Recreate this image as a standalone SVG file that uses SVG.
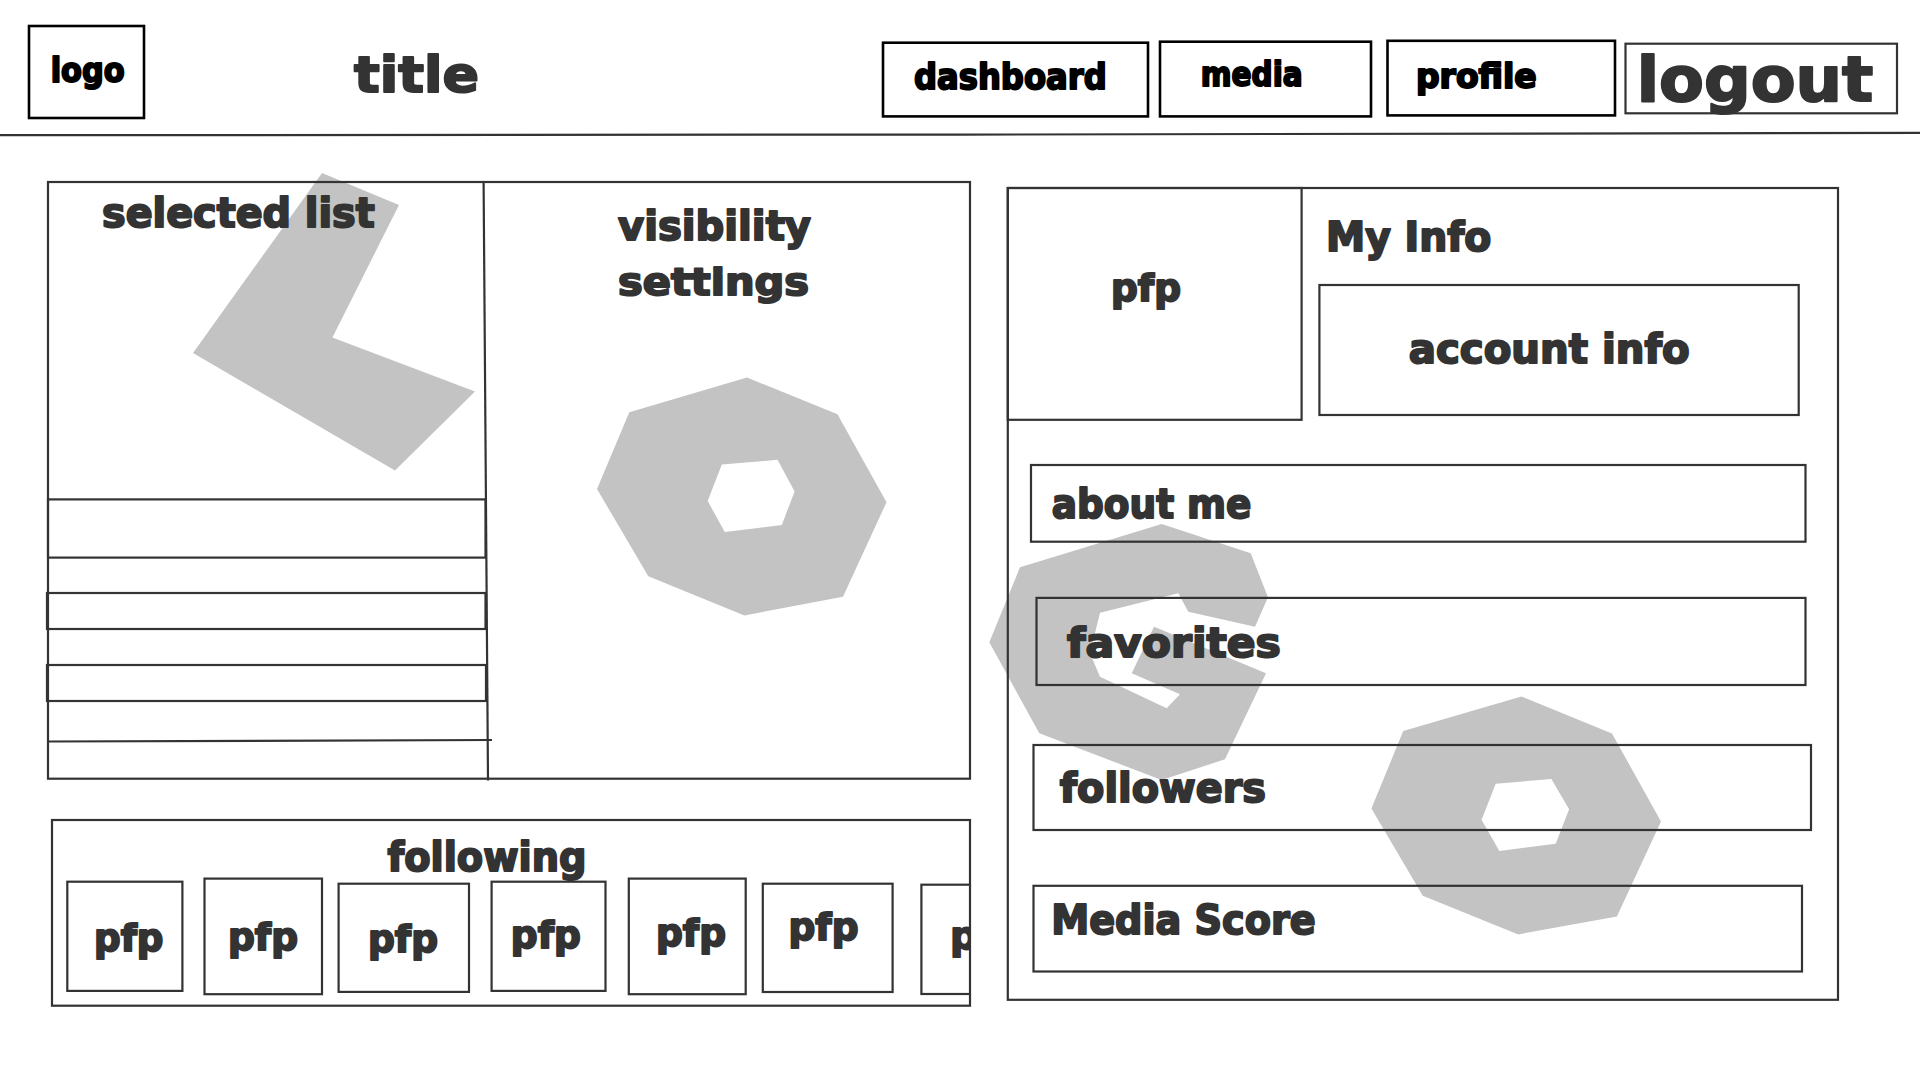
<svg xmlns="http://www.w3.org/2000/svg" width="1920" height="1080" viewBox="0 0 1920 1080">
<style>
rect.b{fill:none;stroke:#333;stroke-width:2.2}
rect.k{fill:none;stroke:#000;stroke-width:2.6}
.l{fill:none;stroke:#333;stroke-width:2.2}
.g{fill:#c3c3c3;fill-rule:evenodd}
text{font-family:"DejaVu Sans","Liberation Sans",sans-serif;font-weight:700;fill:#333;stroke:#333;stroke-width:2;stroke-linejoin:round}
text.kt{fill:#000;stroke:#000}
</style>
<defs><clipPath id="clip7"><rect x="900" y="870" width="70" height="130"/></clipPath></defs>
<rect width="1920" height="1080" fill="#fff"/>
<g id="shapes">
<polygon class="g" points="322,173 399,205 332.4,337.5 475,391.6 395,470.5 193,353"/>
<path class="g" d="M747,377.5 837.5,414.3 886.5,502.2 843,596.8 744.4,615.4 648.3,576.2 597,489 629.3,412.3ZM777.5,459.8 794.6,491.5 781.8,524.9 724.8,532.1 707.7,501.1 721.8,464.6Z"/>
<polygon class="g" points="1161.7,524 1250.7,553.3 1268,597.3 1255,626.7 1188.3,611.7 1178.3,593.3 1100,612.7 1090,653.3 1100,676.7 1166.7,708.3 1180,694.3 1131.7,673.3 1154,626.7 1266,673.3 1225,759.3 1161.7,780 1039.3,733.3 989.3,642.3 1020,567.3"/>
<path class="g" d="M1521.4,696.4 1612,733.6 1661,821.4 1616.9,916.4 1518.3,934.4 1422.8,895.8 1371.4,808.6 1403.2,731.1ZM1551.4,779 1569.1,809.3 1555.7,843.8 1499.3,851 1481.6,819.7 1495.7,783.8Z"/>
</g>
<g id="connectors">
<path class="l" d="M0,135.2 L960,134.6 L1920,132.8"/>
<path class="l" d="M483.6,182 L488,780.5"/>
<path class="l" d="M48,741.5 L492,740"/>
</g>
<g id="logo"><rect class="k" x="29" y="26" width="115" height="92"/><text class="kt" x="50.7" y="81.7" font-size="33" textLength="74" lengthAdjust="spacingAndGlyphs">logo</text></g>
<g id="title"><text x="354" y="92" font-size="50" textLength="125" lengthAdjust="spacingAndGlyphs">title</text></g>
<g id="nav-dashboard"><rect class="k" x="883" y="42.7" width="265" height="73.7"/><text class="kt" x="914" y="89.3" font-size="35" textLength="192.7" lengthAdjust="spacingAndGlyphs">dashboard</text></g>
<g id="nav-media"><rect class="k" x="1160" y="41.7" width="211" height="74.7"/><text class="kt" x="1200.7" y="86" font-size="33" textLength="102" lengthAdjust="spacingAndGlyphs">media</text></g>
<g id="nav-profile"><rect class="k" x="1387.5" y="40.8" width="227.5" height="74.6"/><text class="kt" x="1416" y="88" font-size="33" textLength="120.7" lengthAdjust="spacingAndGlyphs">profile</text></g>
<g id="nav-logout"><rect class="b" x="1625.5" y="43.7" width="271.5" height="69.6"/><text x="1636.7" y="101" font-size="62" textLength="236.6" lengthAdjust="spacingAndGlyphs">logout</text></g>
<g id="list-panel">
<rect class="b" x="48" y="182" width="922" height="596.7"/>
<rect class="b" x="48" y="499.4" width="437.5" height="58.2"/>
<rect class="b" x="47" y="593" width="438.5" height="36"/>
<rect class="b" x="47" y="665" width="439" height="36"/>
<text x="102" y="226.6" font-size="40" textLength="272.7" lengthAdjust="spacingAndGlyphs">selected list</text>
</g>
<g id="visibility-settings">
<text x="618" y="240" font-size="40" textLength="193" lengthAdjust="spacingAndGlyphs">visibility</text>
<text x="618" y="295" font-size="38" textLength="191" lengthAdjust="spacingAndGlyphs">settings</text>
</g>
<g id="following">
<rect class="b" x="52" y="820" width="918" height="185.7"/>
<text x="387.5" y="870.6" font-size="40" textLength="199" lengthAdjust="spacingAndGlyphs">following</text>
</g>
<g id="pfp-1"><rect class="b" x="67.3" y="881.7" width="115.1" height="109.2"/><text x="94" y="951" font-size="38" textLength="69.5" lengthAdjust="spacingAndGlyphs">pfp</text></g>
<g id="pfp-2"><rect class="b" x="204.5" y="878.6" width="117.5" height="115.6"/><text x="228" y="949.5" font-size="38" textLength="70" lengthAdjust="spacingAndGlyphs">pfp</text></g>
<g id="pfp-3"><rect class="b" x="338.6" y="883.7" width="130.4" height="108.2"/><text x="368" y="952" font-size="38" textLength="70" lengthAdjust="spacingAndGlyphs">pfp</text></g>
<g id="pfp-4"><rect class="b" x="491.6" y="881.7" width="113.9" height="109.2"/><text x="510.8" y="947.5" font-size="38" textLength="70" lengthAdjust="spacingAndGlyphs">pfp</text></g>
<g id="pfp-5"><rect class="b" x="628.8" y="878.6" width="116.9" height="115.6"/><text x="656" y="945.5" font-size="38" textLength="70" lengthAdjust="spacingAndGlyphs">pfp</text></g>
<g id="pfp-6"><rect class="b" x="762.8" y="883.7" width="129.8" height="108.3"/><text x="788.5" y="939.5" font-size="38" textLength="70" lengthAdjust="spacingAndGlyphs">pfp</text></g>
<g id="pfp-7" clip-path="url(#clip7)"><rect class="b" x="921.4" y="884.7" width="120" height="109.3"/><text x="950.2" y="949" font-size="38" textLength="70" lengthAdjust="spacingAndGlyphs">pfp</text></g>
<g id="info-panel">
<rect class="b" x="1007.8" y="188" width="830.2" height="811.8"/>
<text x="1326" y="250.7" font-size="40" textLength="165.4" lengthAdjust="spacingAndGlyphs">My Info</text>
</g>
<g id="info-pfp"><rect class="b" x="1007.8" y="188" width="293.8" height="231.8"/><text x="1111" y="301" font-size="38" textLength="70" lengthAdjust="spacingAndGlyphs">pfp</text></g>
<g id="account-info"><rect class="b" x="1319.4" y="285" width="479.3" height="130"/><text x="1408.7" y="363.4" font-size="40" textLength="281" lengthAdjust="spacingAndGlyphs">account info</text></g>
<g id="about-me"><rect class="b" x="1031" y="465" width="774.5" height="76.7"/><text x="1051.8" y="518.3" font-size="40" textLength="199.6" lengthAdjust="spacingAndGlyphs">about me</text></g>
<g id="favorites"><rect class="b" x="1036.5" y="597.9" width="769" height="87.1"/><text x="1067" y="657" font-size="40" textLength="213.8" lengthAdjust="spacingAndGlyphs">favorites</text></g>
<g id="followers"><rect class="b" x="1033.5" y="745" width="777.5" height="85"/><text x="1059.8" y="801.7" font-size="40" textLength="206.2" lengthAdjust="spacingAndGlyphs">followers</text></g>
<g id="media-score"><rect class="b" x="1033.5" y="885.8" width="768.5" height="85.7"/><text x="1051.2" y="933.7" font-size="40" textLength="264.5" lengthAdjust="spacingAndGlyphs">Media Score</text></g>
</svg>
